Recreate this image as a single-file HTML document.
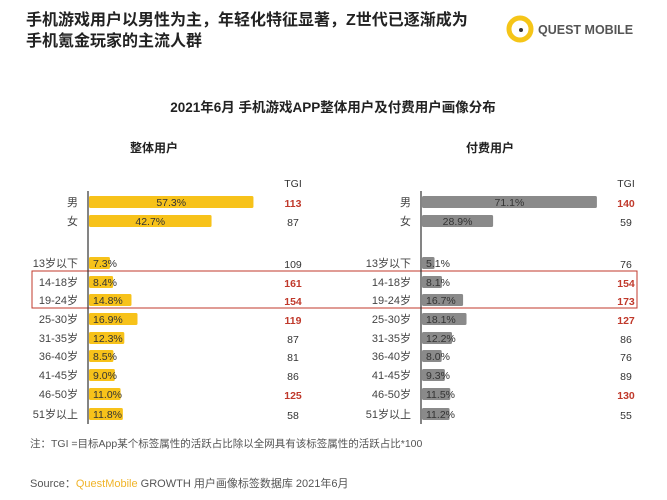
<!DOCTYPE html>
<html><head><meta charset="utf-8"><style>
html,body{margin:0;padding:0;background:#fff;}
svg{display:block;font-family:"Liberation Sans","Noto Sans CJK SC",sans-serif;}
</style></head><body>
<svg id="c" width="667" height="500" viewBox="0 0 667 500">
<text x="26" y="25" font-size="16" font-weight="bold" fill="#222">手机游戏用户以男性为主，年轻化特征显著，Z世代已逐渐成为</text>
<text x="26" y="46" font-size="16" font-weight="bold" fill="#222">手机氪金玩家的主流人群</text>
<g>
<circle cx="520" cy="29" r="11" fill="none" stroke="#f5c518" stroke-width="5"/>
<circle cx="521" cy="30" r="2" fill="#333"/>
<text x="538" y="34" font-size="12.5" font-weight="bold" fill="#555">QUEST MOBILE</text>
</g>
<text x="333" y="112" font-size="13.5" font-weight="bold" fill="#222" text-anchor="middle">2021年6月 手机游戏APP整体用户及付费用户画像分布</text>
<text x="154" y="152" font-size="12" font-weight="bold" fill="#222" text-anchor="middle">整体用户</text>
<text x="490" y="152" font-size="12" font-weight="bold" fill="#222" text-anchor="middle">付费用户</text>
<rect x="32" y="271" width="605" height="37" fill="none" stroke="#c0392b" stroke-width="1"/>
<text x="30" y="447" font-size="10.5" fill="#555">注：TGI =目标App某个标签属性的活跃占比除以全网具有该标签属性的活跃占比*100</text>
<text x="30" y="487" font-size="11" fill="#555">Source：<tspan fill="#f0b429">QuestMobile</tspan> GROWTH 用户画像标签数据库 2021年6月</text>
<g id="plots"></g>
</svg>
<script>
const categories = ["男","女","13岁以下","14-18岁","19-24岁","25-30岁","31-35岁","36-40岁","41-45岁","46-50岁","51岁以上"];
const overallValues = [57.3,42.7,7.3,8.4,14.8,16.9,12.3,8.5,9.0,11.0,11.8];
const overallTGI = [113,87,109,161,154,119,87,81,86,125,58];
const payingValues = [71.1,28.9,5.1,8.1,16.7,18.1,12.2,8.0,9.3,11.5,11.2];
const payingTGI = [140,59,76,154,173,127,86,76,89,130,55];
const rowY = [202,221,263,282,300,319,338,356,375,394,414];
const NS = "http://www.w3.org/2000/svg";
const g = document.getElementById("plots");
function mk(tag, attrs, parent){const e=document.createElementNS(NS,tag);for(const k in attrs)e.setAttribute(k,attrs[k]);(parent||g).appendChild(e);return e;}
function panel(offset, vals, tgi, scale, color, name){
  const axisX = offset + 88;
  const xs = v => axisX + 1 + v*scale;
  const grp = mk("g",{});
  
  
  const ax = mk("line",{x1:axisX,x2:axisX,y1:191,y2:424,stroke:"#333","stroke-width":1.2},grp);
  
  
  const th = mk("text",{x:offset+293,y:187,"font-size":10.5,fill:"#333","text-anchor":"middle"},grp);
  th.textContent="TGI";
  
  
  categories.forEach((c,i)=>{
    const y=rowY[i];
    const lb=mk("text",{x:offset+78,y:y+4,"font-size":11,fill:"#444","text-anchor":"end"},grp);
    lb.textContent=c;
    
    
    const w=xs(vals[i])-axisX-1;
    const b=mk("rect",{x:axisX+1,y:y-6,width:w,height:12,rx:1.5,fill:color},grp);
    
    
    const big=i<2;
    const vl=mk("text",{x:big?axisX+1+w/2:axisX+5,y:y+4,"font-size":10.5,fill:"#333","text-anchor":big?"middle":"start"},grp);
    vl.textContent=vals[i].toFixed(1)+"%";
    
    
    const t=mk("text",{x:offset+293,y:y+5,"font-size":10.5,"font-weight":tgi[i]>=110?"bold":"normal",fill:tgi[i]>=110?"#c0392b":"#333","text-anchor":"middle"},grp);
    t.textContent=tgi[i];
    
    
  });
}
panel(0, overallValues, overallTGI, 2.87, "#f7c21a", "overall");
panel(333, payingValues, payingTGI, 2.46, "#8a8a8a", "paying");
</script>
</body></html>
